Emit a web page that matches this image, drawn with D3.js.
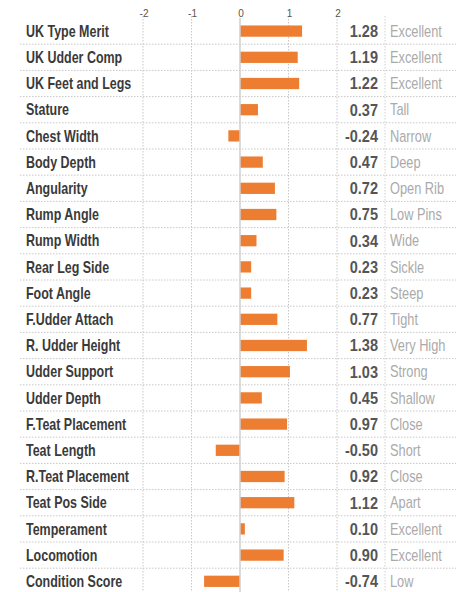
<!DOCTYPE html>
<html>
<head>
<meta charset="utf-8">
<script src="https://cdn.jsdelivr.net/npm/d3@7"></script>
<style>
  body { margin: 0; background: #fff; }
  svg text { font-family: "Liberation Sans", Arial, sans-serif; }
</style>
</head>
<body>
<script>
// trait data
const traits = ["UK Type Merit", "UK Udder Comp", "UK Feet and Legs", "Stature", "Chest Width",
  "Body Depth", "Angularity", "Rump Angle", "Rump Width", "Rear Leg Side", "Foot Angle",
  "F.Udder Attach", "R. Udder Height", "Udder Support", "Udder Depth", "F.Teat Placement",
  "Teat Length", "R.Teat Placement", "Teat Pos Side", "Temperament", "Locomotion", "Condition Score"];
const scores = [1.28, 1.19, 1.22, 0.37, -0.24, 0.47, 0.72, 0.75, 0.34, 0.23, 0.23,
  0.77, 1.38, 1.03, 0.45, 0.97, -0.50, 0.92, 1.12, 0.10, 0.90, -0.74];
const descriptions = ["Excellent", "Excellent", "Excellent", "Tall", "Narrow", "Deep", "Open Rib",
  "Low Pins", "Wide", "Sickle", "Steep", "Tight", "Very High", "Strong", "Shallow", "Close",
  "Short", "Close", "Apart", "Excellent", "Excellent", "Low"];
const ticks = [-2, -1, 0, 1, 2];

var width = 470, height = 592;
var tableTop = 18, rowH = 26.2;

var svg = d3.select("body").append("svg")
  .attr("width", width)
  .attr("height", height);

var x = d3.scaleLinear()
  .domain([-2, 2])
  .range([143, 337]);

var y = d3.scaleBand()
  .domain(traits)
  .range([tableTop, tableTop + rowH * traits.length])
  .paddingInner(0.57)
  .paddingOuter(0.285);

var rowTop = function(i) { return tableTop + i * rowH; };
var mid = function(name) { return y(name) + y.bandwidth() / 2; };

// horizontal dotted separators
svg.selectAll(".sep")
  .data(traits.slice(0, -1))
  .enter().append("line")
  .attr("x1", 20).attr("x2", 456)
  .attr("y1", function(d, i) { return rowTop(i + 1); })
  .attr("y2", function(d, i) { return rowTop(i + 1); })
  .attr("stroke", "#c8c8c8")
  .attr("stroke-dasharray", "1.5,1.5");

// vertical grid lines
svg.selectAll(".grid")
  .data(ticks.filter(function(t) { return t !== 0; }))
  .enter().append("line")
  .attr("x1", function(d) { return x(d); })
  .attr("x2", function(d) { return x(d); })
  .attr("y1", 16).attr("y2", height)
  .attr("stroke", "#c8c8c8")
  .attr("stroke-dasharray", "1.5,1.5");

// separator before the description column
svg.append("line")
  .attr("x1", 385).attr("x2", 385)
  .attr("y1", 16).attr("y2", height)
  .attr("stroke", "#d0d0d0")
  .attr("stroke-dasharray", "1.5,1.5");

// tick labels
svg.selectAll(".tick")
  .data(ticks)
  .enter().append("text")
  .attr("x", function(d) { return x(d) + 1; })
  .attr("y", 17)
  .attr("text-anchor", "middle")
  .style("font-size", "10px")
  .style("fill", "#555")
  .text(function(d) { return d; });

// bars
svg.selectAll(".bar")
  .data(scores)
  .enter().append("rect")
  .attr("x", function(d) { return Math.min(x(0), x(d)); })
  .attr("y", function(d, i) { return y(traits[i]); })
  .attr("width", function(d) { return Math.abs(x(d) - x(0)); })
  .attr("height", y.bandwidth())
  .style("fill", "#ED7D31");

// zero line
svg.append("line")
  .attr("x1", x(0)).attr("x2", x(0))
  .attr("y1", 18).attr("y2", height)
  .attr("stroke", "#cfcfcf")
  .attr("stroke-width", 1.5);

// trait names (condensed look)
svg.selectAll(".name")
  .data(traits)
  .enter().append("text")
  .attr("transform", function(d) { return "translate(26," + mid(d) + ") scale(0.78,1)"; })
  .attr("dy", "0.36em")
  .style("font-size", "16px")
  .style("font-weight", "bold")
  .style("fill", "#3a3a3a")
  .text(function(d) { return d; });

// values
svg.selectAll(".val")
  .data(scores)
  .enter().append("text")
  .attr("transform", function(d, i) { return "translate(378," + mid(traits[i]) + ") scale(0.88,1)"; })
  .attr("dy", "0.36em")
  .attr("text-anchor", "end")
  .style("font-size", "16.5px")
  .style("font-weight", "bold")
  .style("fill", "#555")
  .text(function(d) { return d.toFixed(2); });

// descriptions
svg.selectAll(".desc")
  .data(descriptions)
  .enter().append("text")
  .attr("transform", function(d, i) { return "translate(390," + mid(traits[i]) + ") scale(0.8,1)"; })
  .attr("dy", "0.36em")
  .style("font-size", "16px")
  .style("fill", "#aaa")
  .text(function(d) { return d; });
</script>
</body>
</html>
